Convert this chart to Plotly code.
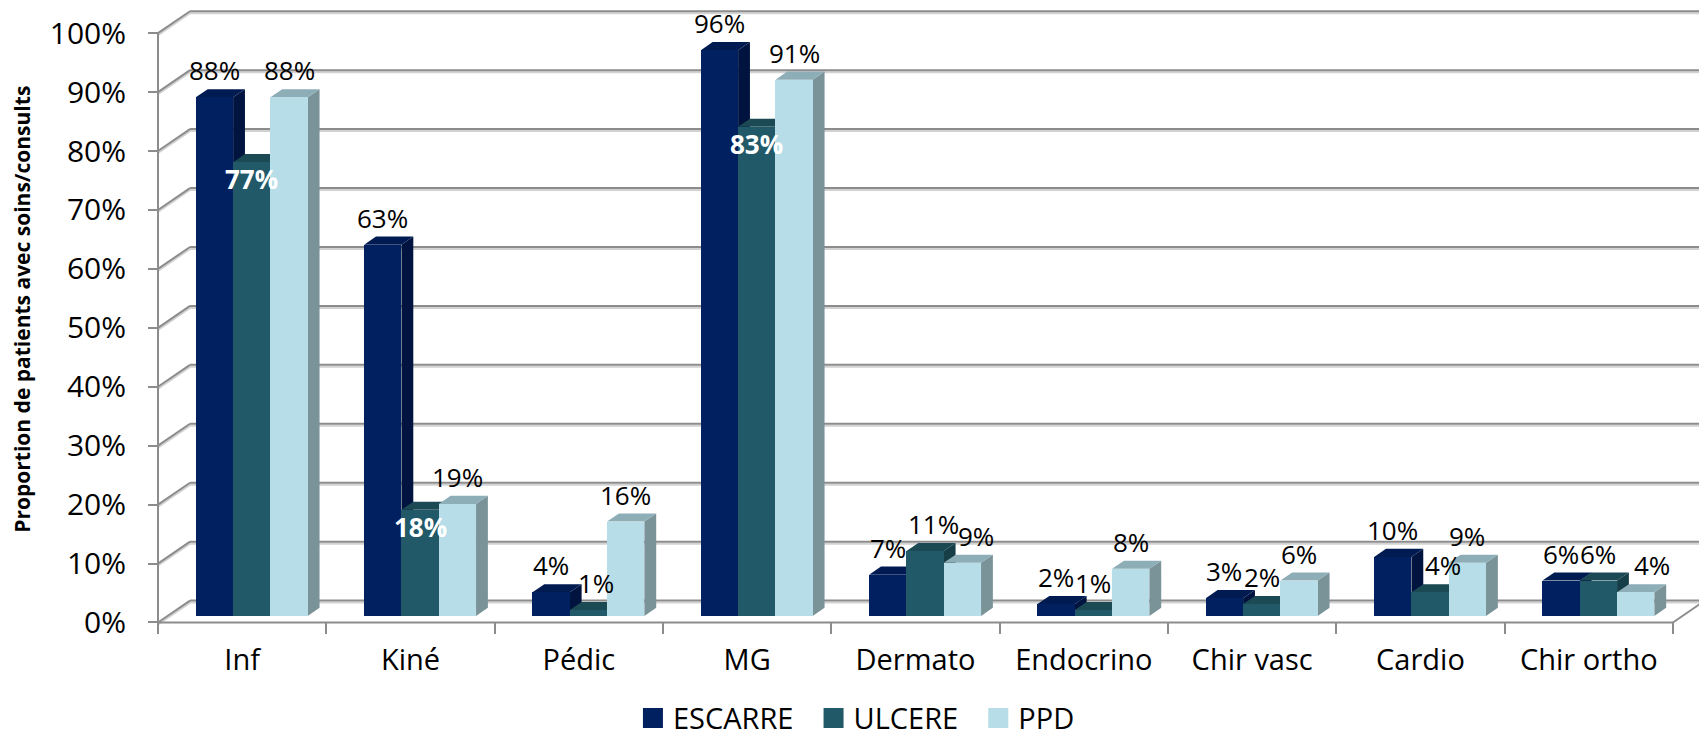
import plotly.graph_objects as go

# ---- data -------------------------------------------------------------
categories = ["Inf", "Kiné", "Pédic", "MG", "Dermato", "Endocrino",
              "Chir vasc", "Cardio", "Chir ortho"]
series_names = ["ESCARRE", "ULCERE", "PPD"]
escarre = [88, 63, 4, 96, 7, 2, 3, 10, 6]
ulcere = [77, 18, 1, 83, 11, 1, 2, 4, 6]
ppd = [88, 19, 16, 91, 9, 8, 6, 9, 4]
y_ticks = [0, 10, 20, 30, 40, 50, 60, 70, 80, 90, 100]

# ---- styling ----------------------------------------------------------
W, H = 1699, 744
FONT = "Open Sans"
front_col = ["#002060", "#215968", "#B7DEE8"]
top_col = ["#001B52", "#1B4954", "#8DAEB7"]
side_col = ["#00143F", "#163E48", "#7A9399"]
GRID = "#8C8C8C"
GRID_LIGHT = "#D2D2D2"

# pixel geometry of the front plane (used only to size the axes)
X0_PX, CAT_PX = 158.0, 168.33
Y0_PX, PCT_PX = 625.0, 5.917
x_range = [(0 - X0_PX) / CAT_PX, (W - X0_PX) / CAT_PX]
y_range = [(Y0_PX - H) / PCT_PX, Y0_PX / PCT_PX]

# depth of the walls and of the bars, in data units
DX, DY = 32 / CAT_PX, 22 / PCT_PX
F_FRONT, F_DEPTH = 0.30, 0.37
BAR_W = 37.3 / CAT_PX
SX, BASE = F_FRONT * DX, F_FRONT * DY
BDX, BDY = F_DEPTH * DX, F_DEPTH * DY

inside_labels = {("ULCERE", "Inf"), ("ULCERE", "Kiné"), ("ULCERE", "MG")}
label_xshift = {("ULCERE", "Pédic"): 8, ("ULCERE", "Dermato"): 8,
                ("PPD", "Dermato"): 14, ("ULCERE", "Cardio"): 13,
                ("PPD", "Chir ortho"): 16}

values = [escarre, ulcere, ppd]
n = len(categories)


def bar_center(i, k):
    return i + 0.5 + SX + (k - 1) * BAR_W


def line(x0, y0, x1, y1, color=GRID, width=2):
    return dict(type="line", x0=x0, y0=y0, x1=x1, y1=y1, xref="x", yref="y",
                line=dict(color=color, width=width), layer="below")


def poly(pts, color):
    path = "M " + " L ".join(f"{x},{y}" for x, y in pts) + " Z"
    return dict(type="path", path=path, xref="x", yref="y", fillcolor=color,
                line=dict(width=0), layer="below")


shapes = []
shade = 2 / PCT_PX
# back wall and left wall grid
for v in y_ticks:
    shapes.append(line(DX, v + DY - shade, n + DX, v + DY - shade, GRID_LIGHT))
    shapes.append(line(0, v - shade, DX, v + DY - shade, GRID_LIGHT))
    shapes.append(line(DX, v + DY, n + DX, v + DY))
    shapes.append(line(0, v, DX, v + DY))
# front axis and floor edges
shapes.append(line(0, 0, 0, y_ticks[-1]))
shapes.append(line(0, 0, n, 0))
shapes.append(line(n, 0, n + DX, DY))

# side and top faces of the bars
for i in range(n):
    for k in range(3):
        v = values[k][i]
        xl = bar_center(i, k) - BAR_W / 2
        xr = xl + BAR_W
        t = BASE + v
        shapes.append(poly([(xr, BASE), (xr + BDX, BASE + BDY),
                            (xr + BDX, t + BDY), (xr, t)], side_col[k]))
        shapes.append(poly([(xl, t), (xr, t), (xr + BDX, t + BDY),
                            (xl + BDX, t + BDY)], top_col[k]))

fig = go.Figure()

# front faces of the bars
for k, name in enumerate(series_names):
    fig.add_trace(go.Bar(
        x=[bar_center(i, k) for i in range(n)], y=values[k],
        base=[BASE] * n, width=BAR_W, name=name,
        marker=dict(color=front_col[k], line=dict(width=0)),
        showlegend=False, hoverinfo="skip"))

# legend entries (non-breaking spaces widen the gap between entries)
for k, name in enumerate(series_names):
    fig.add_trace(go.Scatter(
        x=[None], y=[None], mode="markers", name=name + "\u00a0\u00a0",
        marker=dict(symbol="square", size=16, color=front_col[k],
                    line=dict(color=front_col[k], width=4))))

# data labels
annotations = []
for k, name in enumerate(series_names):
    for i, cat in enumerate(categories):
        v = values[k][i]
        inside = (name, cat) in inside_labels
        annotations.append(dict(
            x=bar_center(i, k), y=BASE + v, xref="x", yref="y",
            text=f"{v}%", showarrow=False, yanchor="middle",
            xshift=label_xshift.get((name, cat), 0),
            yshift=-17 if inside else 27,
            font=dict(family=FONT, size=26,
                      color="white" if inside else "black",
                      weight="bold" if inside else "normal")))

annotations.append(dict(
    x=22 / W, y=(H - 311) / H, xref="paper", yref="paper",
    xanchor="center", yanchor="middle",
    text="<b>Proportion de patients avec soins/consults</b>",
    textangle=-90, showarrow=False,
    font=dict(family=FONT, size=21, color="black")))

fig.update_layout(
    width=W, height=H, margin=dict(l=0, r=0, t=0, b=0, pad=0),
    paper_bgcolor="white", plot_bgcolor="white",
    barmode="overlay", bargap=0,
    shapes=shapes, annotations=annotations,
    font=dict(family=FONT, color="black"),
    legend=dict(orientation="h", x=0.5085, xanchor="center",
                y=(H - 721) / H, yanchor="middle",
                font=dict(family=FONT, size=29, color="black"),
                itemclick=False, itemdoubleclick=False),
    xaxis=dict(range=x_range, anchor="free", position=(H - Y0_PX) / H,
               tickmode="array", tickvals=[i + 0.5 for i in range(n)],
               ticktext=categories, ticks="", ticklabelstandoff=18,
               tickfont=dict(family=FONT, size=29, color="black"),
               minor=dict(tickmode="array", tickvals=list(range(n + 1)),
                          ticks="outside", ticklen=11, tickwidth=2,
                          tickcolor=GRID),
               showgrid=False, zeroline=False, showline=False,
               fixedrange=True),
    yaxis=dict(range=y_range, anchor="free", position=X0_PX / W,
               tickmode="array", tickvals=y_ticks,
               ticktext=[f"{v}%" for v in y_ticks],
               ticks="outside", ticklen=10, tickwidth=2, tickcolor=GRID,
               ticklabelstandoff=16,
               tickfont=dict(family=FONT, size=30, color="black"),
               showgrid=False, zeroline=False, showline=False,
               fixedrange=True),
)

fig.write_html("out.html")
